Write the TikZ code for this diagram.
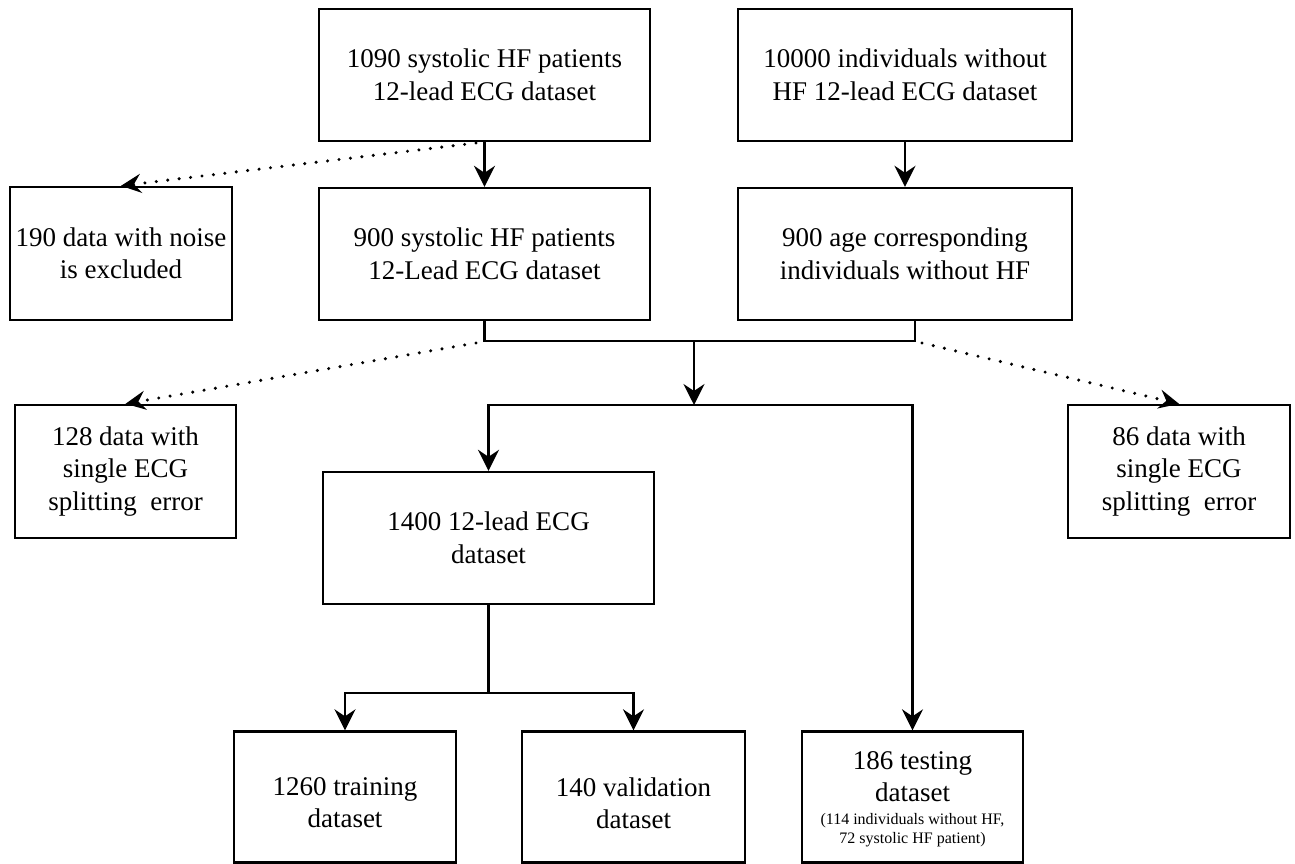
\documentclass[tikz,border=0pt]{standalone}
\usepackage{fontspec}
\setmainfont{Liberation Serif}
\usetikzlibrary{arrows.meta}
\tikzset{
  box/.style={draw=black, line width=2.4pt, inner sep=0pt, align=center,
    font=\fontsize{27}{32.5}\selectfont},
  txt/.style={inner sep=0pt, align=center, font=\fontsize{27}{32}\selectfont},
  smalltxt/.style={inner sep=0pt, align=center, font=\fontsize{16}{19.5}\selectfont},
  conn/.style={line width=2.2pt, draw=black},
  arr/.style={conn, -{Stealth[length=21pt,width=21pt,inset=7pt]}},
  dotarr/.style={line width=3.4pt, draw=black, line cap=round, dash pattern=on 0pt off 11.5pt,
    -{Stealth[length=20pt,width=19pt,inset=7pt]}}
}
\begin{document}
\begin{tikzpicture}[x=1pt,y=-1pt]
\useasboundingbox (0,0) rectangle (1295,864);
% top row
\node[box, minimum width=331pt, minimum height=132pt] (A) at (484.5,75) {1090 systolic HF patients\\12-lead ECG dataset};
\node[box, minimum width=334pt, minimum height=132pt] (B) at (905,75) {10000 individuals without\\HF 12-lead ECG dataset};
% second row
\node[box, minimum width=222pt, minimum height=133pt] (C) at (121,253.5) {190 data with noise\\is excluded};
\node[box, minimum width=331pt, minimum height=132pt] (D) at (484.5,254) {900 systolic HF patients\\12-Lead ECG dataset};
\node[box, minimum width=334pt, minimum height=132pt] (E) at (905,254) {900 age corresponding\\individuals without HF};
% third row
\node[box, minimum width=221pt, minimum height=133pt] (F) at (125.5,471.5) {128 data with\\single ECG\\splitting\ \ error};
\node[box, minimum width=222pt, minimum height=133pt] (G) at (1179,471.5) {86 data with\\single ECG\\splitting\ \ error};
\node[box, minimum width=331pt, minimum height=132pt] (H) at (488.5,538) {1400 12-lead ECG\\dataset};
% bottom row
\node[box, minimum width=222pt, minimum height=131pt] (I) at (345,797) {};
\node[txt] (It) at (345,803) {1260 training\\dataset};
\node[box, minimum width=223pt, minimum height=131pt] (J) at (633.5,797) {};
\node[txt] (Jt) at (633.5,803) {140 validation\\dataset};
\node[box, minimum width=221pt, minimum height=131pt] (K) at (912.5,797) {};
\node[txt] (Kt) at (912.5,776.5) {186 testing\\dataset};
\node[smalltxt] (Ks) at (912.5,830) {(114 individuals without HF,\\72 systolic HF patient)};

% connectors top
\draw[arr] (A) -- (D);
\draw[arr] (B) -- (E);
\coordinate (a1) at (476,143);
\draw[dotarr] (a1) -- (C.north);

% merge
\coordinate (j2) at (915,341);
\draw[conn, line join=miter] (D.south) |- (j2) -- (j2 |- E.south);
\coordinate (m1) at (694,341);
\coordinate (m2) at (694,405);
\draw[arr] (m1) -- (m2);
\draw[arr] (m2) -| (H.north);
\draw[arr] (m2) -| (K.north);

% dotted exclusions
\coordinate (d1) at (476,343);
\coordinate (d2) at (922,343);
\draw[dotarr] (d1) -- (F.north);
\draw[dotarr] (d2) -- (G.north);

% split
\coordinate (b) at (488.5,693);
\draw[conn] (H.south) -- (b);
\draw[arr] (b) -| (I.north);
\draw[arr] (b) -| (J.north);
\end{tikzpicture}
\end{document}
